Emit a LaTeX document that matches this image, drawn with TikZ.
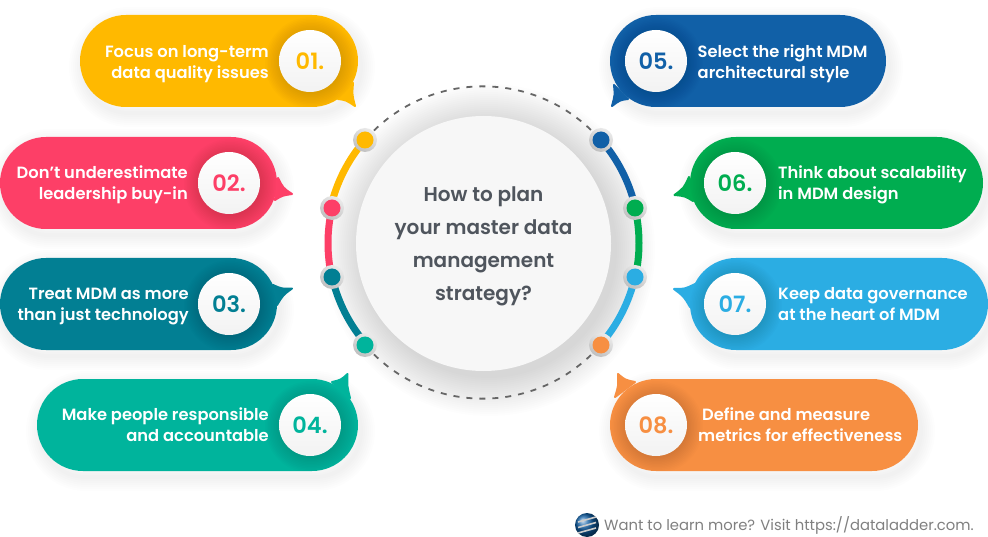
\documentclass[tikz,border=0pt]{standalone}
\usepackage{fontspec}
\setmainfont{Poppins}
\newfontfamily\popmed{Poppins Medium}
\newfontfamily\popsemi{Poppins SemiBold}
\definecolor{c1}{HTML}{FFB900}
\definecolor{c2}{HTML}{FD3F67}
\definecolor{c3}{HTML}{027F93}
\definecolor{c4}{HTML}{00B49C}
\definecolor{c5}{HTML}{1160A7}
\definecolor{c6}{HTML}{00AD50}
\definecolor{c7}{HTML}{2BADE3}
\definecolor{c8}{HTML}{F78F42}
\definecolor{titlegrey}{HTML}{4F555D}
\tikzset{
  bubtext/.style={text=white,font=\popsemi\fontsize{16.3}{21}\selectfont,inner sep=0pt},
  numdisc/.style={circle,minimum size=62pt,inner sep=0pt,top color=white,bottom color=black!5,
     font=\popsemi\fontsize{22.5}{24}\selectfont,text=#1},
  dotouter/.style={circle,minimum size=24pt,inner sep=0pt,top color=black!8,bottom color=black!25,shading angle=-30},
  dotinner/.style={circle,minimum size=17pt,inner sep=0pt,fill=#1},
  ringarc/.style={line width=7pt,draw=#1},
}
\newcommand{\mybubble}[7]{%
  % #1 x0  #2 x1  #3 disc cx  #4 y0  #5 colour  #6 number  #7 tail path
  \pgfmathsetmacro{\yb}{#4+92}
  \pgfmathsetmacro{\yc}{#4+46}
  \foreach \w in {4,8,...,28}{
    \draw[black,opacity=.006,line width=\w pt,rounded corners=46pt,shift={(3pt,-6pt)}] (#1,#4) rectangle (#2,\yb);
  }
  \fill[#5,draw=#5,line width=2pt,line join=round] #7;
  \fill[#5,rounded corners=46pt] (#1,#4) rectangle (#2,\yb);
  \begin{scope}
    \clip (#1,#4) [rounded corners=46pt] rectangle (#2,\yb);
    \foreach \r in {31,32.5,...,46}{
      \fill[black,opacity=.011] (#3+1,\yc+2) circle (\r pt);
    }
  \end{scope}
  \node[numdisc=#5] (num#6) at (#3,\yc) {\raisebox{-1pt}{0#6.}};
}
\begin{document}
\begin{tikzpicture}[x=1pt,y=-1pt]
\useasboundingbox (0,0) rectangle (988,537);
\fill[white] (0,0) rectangle (988,537);

% main disc shadow
\foreach \r in {128,130,...,166}{
  \fill[black,opacity=.0085] (489,250) circle (\r pt);
}

% bubbles
\mybubble{80}{358}{310}{15}{c1}{1}{(353,83) .. controls (352,95) .. (355,106) .. controls (346,100) .. (338,99) -- cycle}
\mybubble{0}{277}{229}{137}{c2}{2}{(278,178) .. controls (283,188) .. (292,194) .. controls (282,195.5) .. (275,200) -- cycle}
\mybubble{0}{277}{229}{258}{c3}{3}{(273,285) .. controls (282,289) .. (292,288.5) .. controls (283,295) .. (277,305) -- cycle}
\mybubble{37}{358}{310}{379}{c4}{4}{(332,382) .. controls (341,380) .. (347.5,374) .. controls (347,386) .. (350,398) -- cycle}
\mybubble{610}{886}{656}{15}{c5}{5}{(614,85) .. controls (615,95) .. (612,106) .. controls (620,100) .. (628,99) -- cycle}
\mybubble{690}{983}{735}{137}{c6}{6}{(689,177) .. controls (684,188) .. (674.5,195) .. controls (685,196) .. (693,201) -- cycle}
\mybubble{690}{988}{735}{258}{c7}{7}{(695,284) .. controls (685,289) .. (674,289) .. controls (684,296.5) .. (690,307) -- cycle}
\mybubble{610}{918}{656}{379}{c8}{8}{(635,382) .. controls (625,380) .. (618,374) .. controls (618.5,386) .. (615,397) -- cycle}

% bubble texts
\node[bubtext,align=right,anchor=east] (t1) at (269,64) {Focus on long-term\\data quality issues};
\node[bubtext,align=right,anchor=east] (t2) at (188,185) {Don’t underestimate\\leadership buy-in};
\node[bubtext,align=right,anchor=east] (t3) at (189,307) {Treat MDM as more\\than just technology};
\node[bubtext,align=right,anchor=east] (t4) at (269,425) {Make people responsible\\and accountable};
\node[bubtext,align=left,anchor=west] (t5) at (697.5,63.5) {Select the right MDM\\architectural style};
\node[bubtext,align=left,anchor=west] (t6) at (778,185) {Think about scalability\\in MDM design};
\node[bubtext,align=left,anchor=west] (t7) at (778,304) {Keep data governance\\at the heart of MDM};
\node[bubtext,align=left,anchor=west] (t8) at (698,425) {\hspace*{4pt}Define and measure\\metrics for effectiveness};

% ring
\coordinate (p1) at (365,140);
\coordinate (p2) at (332,208);
\coordinate (p3) at (332,277);
\coordinate (p4) at (365,345);
\coordinate (p5) at (601,140);
\coordinate (p6) at (635,208);
\coordinate (p7) at (635,277);
\coordinate (p8) at (601,345);

\draw[black!60,line width=1.8pt,dash pattern=on 6pt off 7pt] (p1) arc[start angle=139,end angle=41,radius=156pt];
\draw[black!60,line width=1.8pt,dash pattern=on 6pt off 7pt] (p4) arc[start angle=221,end angle=319,radius=156pt];
\draw[ringarc=c1] (p1) arc[start angle=139,end angle=167,radius=156pt];
\draw[ringarc=c2] (p2) arc[start angle=167,end angle=193,radius=156pt];
\draw[ringarc=c3] (p3) arc[start angle=193,end angle=221,radius=156pt];
\draw[ringarc=c5] (p5) arc[start angle=41,end angle=13,radius=156pt];
\draw[ringarc=c6] (p6) arc[start angle=13,end angle=-13,radius=156pt];
\draw[ringarc=c7] (p7) arc[start angle=-13,end angle=-41,radius=156pt];

\foreach \i in {1,...,8}{
  \node[dotouter] (do\i) at (p\i) {};
  \node[dotinner=c\i] (di\i) at (do\i) {};
}

% main disc
\node[circle,minimum size=255pt,inner sep=0pt,fill=black!3] (main) at (483.5,243.5) {};
\node[align=center,inner sep=0pt,text=titlegrey,font=\popsemi\fontsize{20}{33}\selectfont] (title) at (483.5,246.5)
  {How to plan\\your master data\\management\\strategy?};

% footer
\shade[ball color=c5] (587,525) circle (12pt);
\node[circle,minimum size=24pt,inner sep=0pt] (logo) at (587,525) {};
\foreach \dy in {-5.5,0,5.5}{
  \draw[black!20,line width=1.6pt] ([xshift=-9pt,yshift=-\dy pt-2.5pt]logo.center) -- ([xshift=9pt,yshift=-\dy pt+2.5pt]logo.center);
}
\node[anchor=west,inner sep=0pt,text=black!50,font=\fontsize{14.8}{16}\selectfont] (foot) at (604,525) {Want to learn more? Visit https://dataladder.com.};
\end{tikzpicture}
\end{document}
